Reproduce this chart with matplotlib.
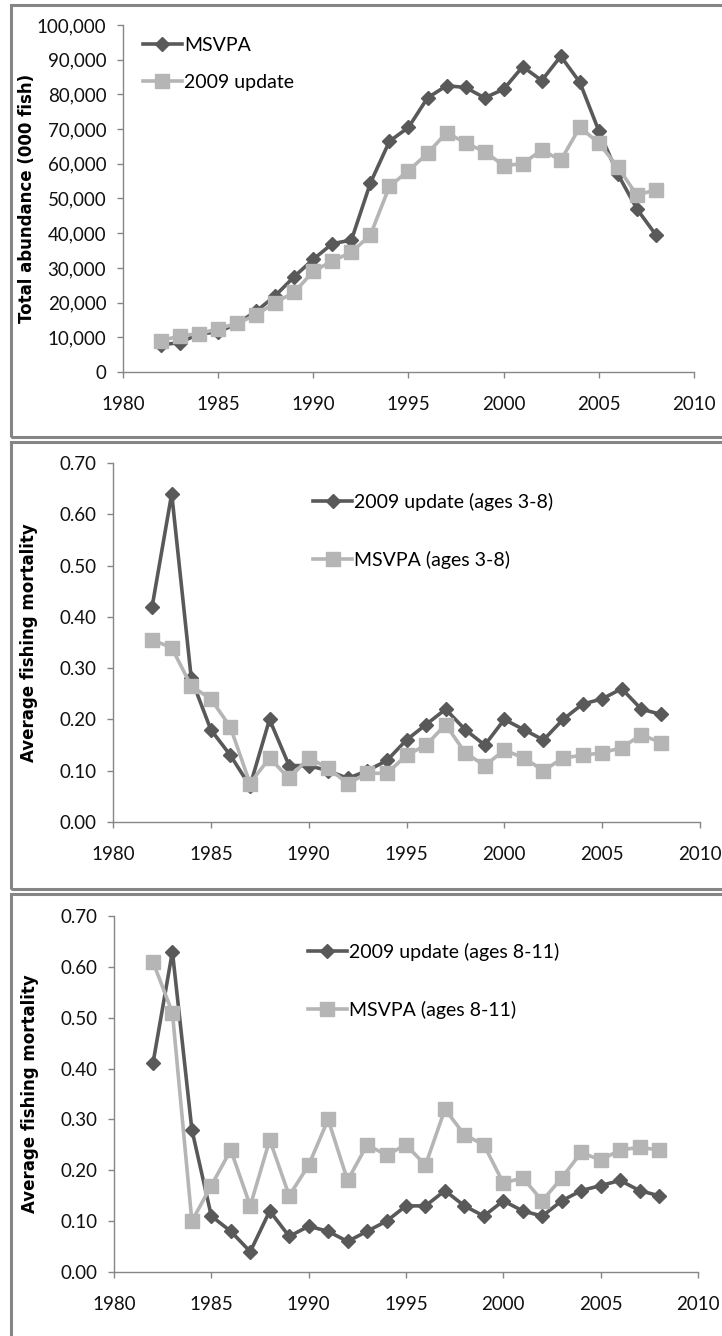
import numpy as np
import matplotlib.pyplot as plt
from matplotlib.patches import Rectangle
from matplotlib.ticker import FuncFormatter, MultipleLocator

plt.rcParams['font.family'] = ['Lato', 'DejaVu Sans']

W, H = 722, 1336
DARK = '#595959'
LIGHT = '#b5b5b5'
GRID_GREY = '#868686'

years = np.arange(1982, 2009)

# panel 1 - total abundance (000 fish)
abund_msvpa = [7800, 8500, 11000, 11500, 14000, 17500, 22000, 27500, 32500, 37000,
               38000, 54500, 66500, 70500, 79000, 82500, 82000, 79000, 81500, 88000,
               84000, 91000, 83500, 69500, 57000, 47000, 39500]
abund_2009 = [8900, 10500, 11000, 12500, 14000, 16500, 20000, 23000, 29000, 32000,
              34500, 39500, 53500, 58000, 63000, 69000, 66000, 63500, 59500, 60000,
              64000, 61000, 70500, 66000, 59000, 51000, 52500]

# panel 2 - F ages 3-8
f38_2009 = [0.42, 0.64, 0.28, 0.18, 0.13, 0.07, 0.20, 0.11, 0.11, 0.10,
            0.085, 0.10, 0.12, 0.16, 0.19, 0.22, 0.18, 0.15, 0.20, 0.18,
            0.16, 0.20, 0.23, 0.24, 0.26, 0.22, 0.21]
f38_msvpa = [0.355, 0.34, 0.265, 0.24, 0.185, 0.075, 0.125, 0.085, 0.125, 0.105,
             0.075, 0.095, 0.095, 0.13, 0.15, 0.19, 0.135, 0.11, 0.14, 0.125,
             0.10, 0.125, 0.13, 0.135, 0.145, 0.17, 0.155]

# panel 3 - F ages 8-11
f811_2009 = [0.41, 0.63, 0.28, 0.11, 0.08, 0.04, 0.12, 0.07, 0.09, 0.08,
             0.06, 0.08, 0.10, 0.13, 0.13, 0.16, 0.13, 0.11, 0.14, 0.12,
             0.11, 0.14, 0.16, 0.17, 0.18, 0.16, 0.15]
f811_msvpa = [0.61, 0.51, 0.10, 0.17, 0.24, 0.13, 0.26, 0.15, 0.21, 0.30,
              0.18, 0.25, 0.23, 0.25, 0.21, 0.32, 0.27, 0.25, 0.175, 0.185,
              0.14, 0.185, 0.235, 0.22, 0.24, 0.245, 0.24]


def px_axes(left, top, right, bottom):
    return [left / W, 1 - bottom / H, (right - left) / W, (bottom - top) / H]


fig = plt.figure(figsize=(W / 100, H / 100), dpi=100)

# panel borders (pixel boxes, right/bottom run off the image)
for top, bot in [(5, 437), (442, 889), (894, 1345)]:
    fig.patches.append(Rectangle((11 / W, 1 - bot / H), 1.0, (bot - top) / H,
                                 transform=fig.transFigure, fill=False,
                                 edgecolor='#858585', linewidth=2.2))

panels = [
    dict(box=(123, 25, 694, 372), ymax=100000, ystep=10000,
         fmt=lambda v, p: f'{v:,.0f}', ylabel='Total abundance (000 fish)',
         series=[(abund_msvpa, 'MSVPA', 'dark'), (abund_2009, '2009 update', 'light')],
         lab_x=-0.152, leg=(0.035, 0.965), lspace=1.0),
    dict(box=(113, 463, 700, 822), ymax=0.70, ystep=0.10,
         fmt=lambda v, p: f'{v:.2f}', ylabel='Average fishing mortality',
         series=[(f38_2009, '2009 update (ages 3-8)', 'dark'), (f38_msvpa, 'MSVPA (ages 3-8)', 'light')],
         lab_x=-0.128, leg=(0.341, 0.917), lspace=2.05),
    dict(box=(114, 916, 698, 1272), ymax=0.70, ystep=0.10,
         fmt=lambda v, p: f'{v:.2f}', ylabel='Average fishing mortality',
         series=[(f811_2009, '2009 update (ages 8-11)', 'dark'), (f811_msvpa, 'MSVPA (ages 8-11)', 'light')],
         lab_x=-0.129, leg=(0.332, 0.924), lspace=2.05),
]

for p in panels:
    ax = fig.add_axes(px_axes(*p['box']))
    for vals, label, kind in p['series']:
        if kind == 'dark':
            ax.plot(years, vals, color=DARK, lw=2.6, marker='D', ms=7,
                    label=label, zorder=3)
        else:
            ax.plot(years, vals, color=LIGHT, lw=2.6, marker='s', ms=10.5,
                    label=label, zorder=4)

    ax.set_xlim(1980, 2010)
    ax.set_ylim(0, p['ymax'])
    ax.xaxis.set_major_locator(MultipleLocator(5))
    ax.yaxis.set_major_locator(MultipleLocator(p['ystep']))
    ax.yaxis.set_major_formatter(FuncFormatter(p['fmt']))
    ax.spines[['top', 'right']].set_visible(False)
    for s in ['left', 'bottom']:
        ax.spines[s].set_color(GRID_GREY)
        ax.spines[s].set_linewidth(1.0)
    ax.tick_params(axis='both', direction='out', length=4, width=1.0,
                   color=GRID_GREY, labelsize=13.5, labelcolor='#111111')
    ax.tick_params(axis='y', pad=8)
    ax.tick_params(axis='x', pad=13)
    ax.set_ylabel(p['ylabel'], fontsize=12, fontweight='bold',
                  family=['DejaVu Sans'])
    ax.yaxis.set_label_coords(p['lab_x'], 0.5)
    ax.set_facecolor('none')

    ax.legend(loc='upper left', bbox_to_anchor=p['leg'], frameon=False,
              fontsize=14, handlelength=2.0, handletextpad=0.1,
              labelspacing=p['lspace'], borderpad=0, borderaxespad=0)

fig.savefig('out.png', dpi=100)
